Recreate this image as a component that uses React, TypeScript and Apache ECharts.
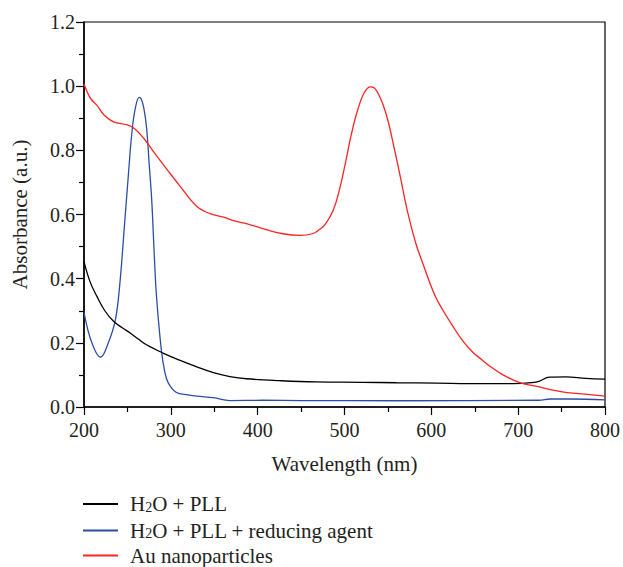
import React, { useEffect, useRef } from "react";
import * as echarts from "echarts";

const seriesNames = ["H2O + PLL", "H2O + PLL + reducing agent", "Au nanoparticles"];
const legendLabels = ["H{sub|2}O + PLL", "H{sub|2}O + PLL + reducing agent", "Au nanoparticles"];
const seriesColors = ["#000000", "#2c4ca8", "#ff2222"];

const pllX = [200, 207, 215, 224, 234, 244, 254, 263, 272, 291, 310, 330, 349, 368, 387, 425, 467, 520, 560, 606, 644, 694, 716, 724, 736, 755, 778, 800];
const pllY = [0.453, 0.39, 0.344, 0.3, 0.267, 0.247, 0.229, 0.211, 0.194, 0.168, 0.146, 0.125, 0.107, 0.095, 0.088, 0.082, 0.078, 0.077, 0.0756, 0.0746, 0.073, 0.073, 0.076, 0.08, 0.093, 0.094, 0.089, 0.087];

const redX = [200, 209, 219, 228, 236, 241, 247, 251, 255, 259, 263.6, 266, 269, 272, 275, 278, 281, 283.5, 289, 293, 297, 306, 320, 330, 349, 368, 406, 450, 560, 724, 737, 760, 800];
const redY = [0.295, 0.2, 0.155, 0.2, 0.27, 0.376, 0.58, 0.72, 0.851, 0.93, 0.965, 0.96, 0.93, 0.872, 0.76, 0.644, 0.47, 0.345, 0.179, 0.11, 0.075, 0.046, 0.038, 0.034, 0.029, 0.02, 0.021, 0.02, 0.0195, 0.021, 0.025, 0.025, 0.022];

const auX = [200, 204, 208, 215, 223, 234, 250, 258, 269, 280, 296, 311, 330, 346, 361, 372, 388, 411, 429, 448, 463, 471, 478, 487, 494, 500, 508, 515, 523, 530, 534, 538, 544, 550, 557, 565, 573, 582, 590, 598, 605, 613, 624, 636, 648, 657, 667, 682, 701, 720, 751, 770, 800];
const auY = [1.007, 0.98, 0.96, 0.94, 0.91, 0.889, 0.879, 0.868, 0.837, 0.796, 0.739, 0.687, 0.625, 0.602, 0.592, 0.581, 0.571, 0.552, 0.54, 0.535, 0.54, 0.553, 0.57, 0.613, 0.675, 0.747, 0.851, 0.924, 0.981, 0.998, 0.995, 0.981, 0.945, 0.893, 0.81, 0.708, 0.604, 0.511, 0.449, 0.389, 0.343, 0.303, 0.255, 0.207, 0.17, 0.15, 0.128, 0.101, 0.077, 0.065, 0.047, 0.042, 0.034];

const zip = (xs: number[], ys: number[]) => xs.map((x, i) => [x, ys[i]]);

const FONT = "Liberation Serif, DejaVu Serif, serif";
const TEXT = "#231f20";
const legendRowCenters = [503.5, 530, 555];

export default function App() {
  const ref = useRef<HTMLDivElement>(null);
  useEffect(() => {
    document.body.style.margin = "0";
    if (!ref.current) return;
    const chart = echarts.init(ref.current, undefined, { renderer: "svg" });
    const datasets = [zip(pllX, pllY), zip(redX, redY), zip(auX, auY)];
    const legends = seriesNames.map((name, i) => ({
      orient: "vertical",
      left: 83,
      top: legendRowCenters[i] - 10,
      padding: 0,
      itemWidth: 35,
      itemHeight: 2,
      icon: "rect",
      data: [name],
      formatter: (n: string) => legendLabels[seriesNames.indexOf(n)],
      textStyle: {
        fontFamily: FONT,
        fontSize: 21,
        color: TEXT,
        padding: [0, 0, 0, 7],
        lineHeight: 20,
        rich: {
          sub: { fontSize: 14, fontFamily: FONT, color: TEXT, verticalAlign: "bottom", lineHeight: 10 },
        },
      },
    }));
    chart.setOption({
      animation: false,
      textStyle: { fontFamily: FONT },
      grid: {
        left: 84,
        right: 17,
        top: 22,
        bottom: 160,
        show: true,
        borderColor: "#000",
        borderWidth: 1.2,
        containLabel: false,
      },
      legend: legends,
      xAxis: {
        type: "value",
        min: 200,
        max: 800,
        interval: 100,
        name: "Wavelength (nm)",
        nameLocation: "middle",
        nameGap: 46,
        nameTextStyle: { fontFamily: FONT, fontSize: 21, color: TEXT },
        axisLine: { show: true, onZero: false, lineStyle: { color: "#000", width: 1.5 } },
        axisTick: { show: true, inside: false, length: 8, lineStyle: { color: "#000", width: 1.2 } },
        minorTick: { show: true, splitNumber: 2, length: 5, lineStyle: { color: "#000", width: 1.2 } },
        splitLine: { show: false },
        axisLabel: { fontFamily: FONT, fontSize: 20, color: TEXT, margin: 13 },
      },
      yAxis: {
        type: "value",
        min: 0,
        max: 1.2,
        interval: 0.2,
        name: "Absorbance (a.u.)",
        nameLocation: "middle",
        nameGap: 54,
        nameRotate: 90,
        nameTextStyle: { fontFamily: FONT, fontSize: 21, color: TEXT },
        axisLine: { show: true, onZero: false, lineStyle: { color: "#000", width: 1.5 } },
        axisTick: { show: true, inside: false, length: 8, lineStyle: { color: "#000", width: 1.2 } },
        minorTick: { show: true, splitNumber: 2, length: 5, lineStyle: { color: "#000", width: 1.2 } },
        splitLine: { show: false },
        axisLabel: {
          fontFamily: FONT,
          fontSize: 20,
          color: TEXT,
          margin: 9,
          formatter: (v: number) => v.toFixed(1),
        },
      },
      series: seriesNames.map((name, i) => ({
        name,
        type: "line",
        data: datasets[i],
        showSymbol: false,
        symbol: "none",
        smooth: 0.4,
        color: seriesColors[i],
        lineStyle: { color: seriesColors[i], width: 1.3 },
        z: i === 0 ? 3 : i === 1 ? 2 : 4,
      })),
    });
    return () => chart.dispose();
  }, []);
  return <div ref={ref} style={{ width: 623, height: 567 }} />;
}
